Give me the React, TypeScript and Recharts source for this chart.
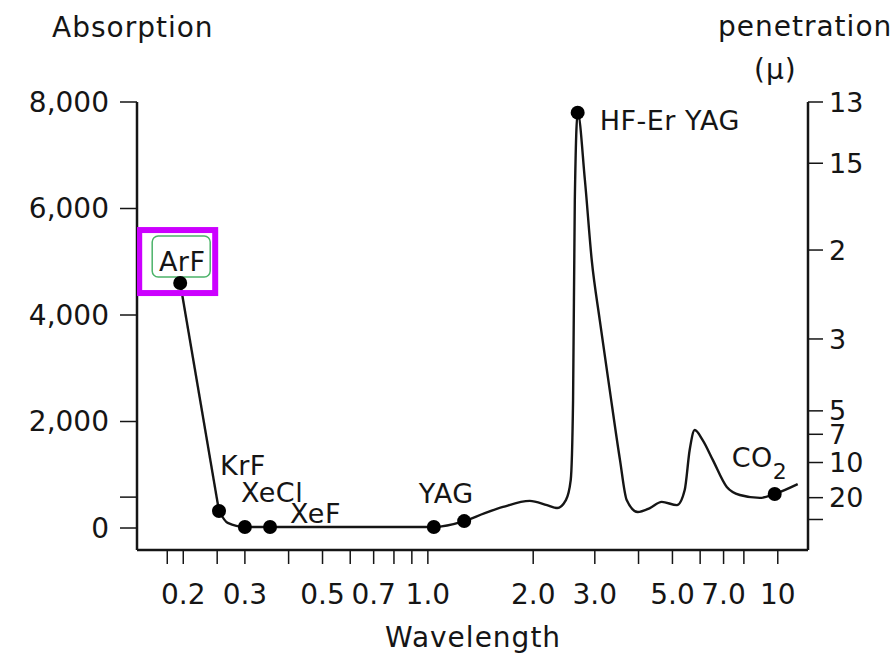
import React from 'react';
import { LineChart, Line, XAxis, YAxis } from 'recharts';

// wavelength (micron) vs absorption
const wavelength = [
  0.196, 0.253, 0.268, 0.3, 0.354, 1.04, 1.27, 1.455, 1.64, 1.955, 2.19, 2.34, 2.48, 2.56, 2.6, 2.63,
  2.68, 2.81, 2.94, 3.1, 3.31, 3.54, 3.7, 3.98, 4.31, 4.66, 5.15, 5.42, 5.6, 5.79, 6.1, 6.52, 7.15,
  7.79, 8.89, 9.8, 11.4,
];
const absorption = [
  4600, 320, 95, 20, 20, 20, 130, 280, 395, 510, 430, 375, 525, 900, 2400, 6160,
  7800, 6540, 5030, 3900, 2590, 1280, 525, 300, 375, 490, 430, 715, 1465, 1840, 1650, 1280, 770,
  620, 565, 640, 825,
];
// null = no marker, '' = marker without a label
const laserNames: (string | null)[] = [
  'ArF', 'KrF', null, 'XeCl', 'XeF', 'YAG', '', null, null, null, null, null, null, null, null, null,
  'HF-Er YAG', null, null, null, null, null, null, null, null, null, null, null, null, null, null, null, null,
  null, null, 'CO2', null,
];

const xTicks = [0.18, 0.2, 0.25, 0.3, 0.4, 0.5, 0.6, 0.7, 0.8, 0.9, 1, 2, 3, 4, 5, 6, 7, 8, 10];
const xLabelValues = [0.2, 0.3, 0.5, 0.7, 1, 2, 3, 5, 7, 10];
const xLabelText = ['0.2', '0.3', '0.5', '0.7', '1.0', '2.0', '3.0', '5.0', '7.0', '10'];

const absorptionTicks = [0, 580, 2000, 4000, 6000, 8000];
const absorptionLabels = ['0', '', '2,000', '4,000', '6,000', '8,000'];

const penetrationTicks = [8000, 6850, 5220, 3550, 2200, 1760, 1230, 570, 160];
const penetrationLabels = ['13', '15', '2', '3', '5', '7', '10', '20', ''];

const data = wavelength.map((w, i) => ({ wavelength: w, absorption: absorption[i], name: laserNames[i] }));
// ArF -> KrF is drawn as a straight segment, the rest as a smooth curve
const uvSegment = data.slice(0, 2);
const curveSegment = data.slice(1);

const FONT = '"DejaVu Sans", sans-serif';
const INK = '#151515';

const labelPos: Record<string, { dx: number; dy: number; anchor: 'start' | 'middle' }> = {
  ArF: { dx: 2, dy: -12, anchor: 'middle' },
  KrF: { dx: 1, dy: -36, anchor: 'start' },
  XeCl: { dx: -4, dy: -25, anchor: 'start' },
  XeF: { dx: 20, dy: -4, anchor: 'start' },
  YAG: { dx: -15, dy: -24, anchor: 'start' },
  'HF-Er YAG': { dx: 22, dy: 17, anchor: 'start' },
  CO2: { dx: -43, dy: -27, anchor: 'start' },
};

const labelText = { fontSize: 27, fontFamily: FONT, fill: INK, letterSpacing: 0.5 };

const renderLaserDot = (props: any) => {
  const { cx, cy, index, payload } = props;
  const name = payload?.name;
  if (name === null || name === undefined || cx == null) return <g key={`d-${index}`} />;
  const pos = labelPos[name];
  return (
    <g key={`d-${index}`}>
      {name === 'ArF' && (
        <>
          <rect x={cx - 28} y={cy - 47} width={58} height={41} rx={6} fill="#fff" stroke="#4cb36a" strokeWidth={1.5} />
          <rect x={cx - 41} y={cy - 53} width={76} height={63} fill="none" stroke="#cc00ff" strokeWidth={6} />
        </>
      )}
      <circle cx={cx} cy={cy} r={7} fill="#000" />
      {pos && name !== 'CO2' && (
        <text x={cx + pos.dx} y={cy + pos.dy} textAnchor={pos.anchor} {...labelText}>
          {name}
        </text>
      )}
      {pos && name === 'CO2' && (
        <text x={cx + pos.dx} y={cy + pos.dy} {...labelText}>
          CO
          <tspan dy={12} fontSize={22}>2</tspan>
        </text>
      )}
    </g>
  );
};

const renderFirstDot = (props: any) =>
  props.index === 0 ? renderLaserDot(props) : <g key={`u-${props.index}`} />;

const WavelengthTick = ({ x, y, payload }: any) => {
  const i = xLabelValues.indexOf(payload.value);
  if (i < 0) return <g />;
  return (
    <text x={x} y={y} dy="0.71em" textAnchor="middle" fontSize={28} fontFamily={FONT} fill={INK}>
      {xLabelText[i]}
    </text>
  );
};

const titleStyle: React.CSSProperties = {
  position: 'absolute',
  fontFamily: FONT,
  fontSize: 28,
  lineHeight: 1,
  letterSpacing: 1,
  color: INK,
  whiteSpace: 'nowrap',
};

export default function App() {
  return (
    <div style={{ position: 'absolute', left: 0, top: 0, width: 891, height: 661, background: '#fff', overflow: 'hidden' }}>
      <LineChart width={891} height={661} margin={{ top: 102, right: 3, bottom: 51, left: 57 }}>
        <XAxis
          dataKey="wavelength"
          type="number"
          scale="log"
          domain={[0.1475, 12.2]}
          allowDataOverflow
          ticks={xTicks}
          interval={0}
          height={60}
          tickSize={14}
          tickMargin={20}
          tick={<WavelengthTick />}
          axisLine={{ stroke: INK, strokeWidth: 2.5 }}
          tickLine={{ stroke: INK, strokeWidth: 1.5 }}
        />
        <YAxis
          yAxisId="left"
          orientation="left"
          type="number"
          domain={[-413, 8000]}
          allowDataOverflow
          ticks={absorptionTicks}
          interval={0}
          width={80}
          tickSize={17}
          tickMargin={11}
          tickFormatter={(v: number) => absorptionLabels[absorptionTicks.indexOf(v)] ?? ''}
          tick={{ fontSize: 28, fontFamily: FONT, fill: INK }}
          axisLine={{ stroke: INK, strokeWidth: 2.5 }}
          tickLine={{ stroke: INK, strokeWidth: 1.5 }}
        />
        <YAxis
          yAxisId="right"
          orientation="right"
          type="number"
          domain={[-413, 8000]}
          allowDataOverflow
          ticks={penetrationTicks}
          interval={0}
          width={80}
          tickSize={15}
          tickMargin={6}
          tickFormatter={(v: number) => penetrationLabels[penetrationTicks.indexOf(v)] ?? ''}
          tick={{ fontSize: 27, fontFamily: FONT, fill: INK }}
          axisLine={{ stroke: INK, strokeWidth: 2.5 }}
          tickLine={{ stroke: INK, strokeWidth: 1.5 }}
        />
        <Line
          yAxisId="right"
          data={data}
          dataKey="absorption"
          stroke="none"
          dot={false}
          activeDot={false}
          isAnimationActive={false}
        />
        <Line
          yAxisId="left"
          data={uvSegment}
          dataKey="absorption"
          type="linear"
          stroke={INK}
          strokeWidth={2.4}
          dot={renderFirstDot}
          activeDot={false}
          isAnimationActive={false}
        />
        <Line
          yAxisId="left"
          data={curveSegment}
          dataKey="absorption"
          type="monotone"
          stroke={INK}
          strokeWidth={2.4}
          dot={renderLaserDot}
          activeDot={false}
          isAnimationActive={false}
        />
      </LineChart>
      <div style={{ ...titleStyle, left: 52, top: 14 }}>Absorption</div>
      <div style={{ ...titleStyle, left: 718, top: 13 }}>penetration</div>
      <div style={{ ...titleStyle, left: 754, top: 56 }}>(μ)</div>
      <div style={{ ...titleStyle, left: 385, top: 624 }}>Wavelength</div>
    </div>
  );
}
